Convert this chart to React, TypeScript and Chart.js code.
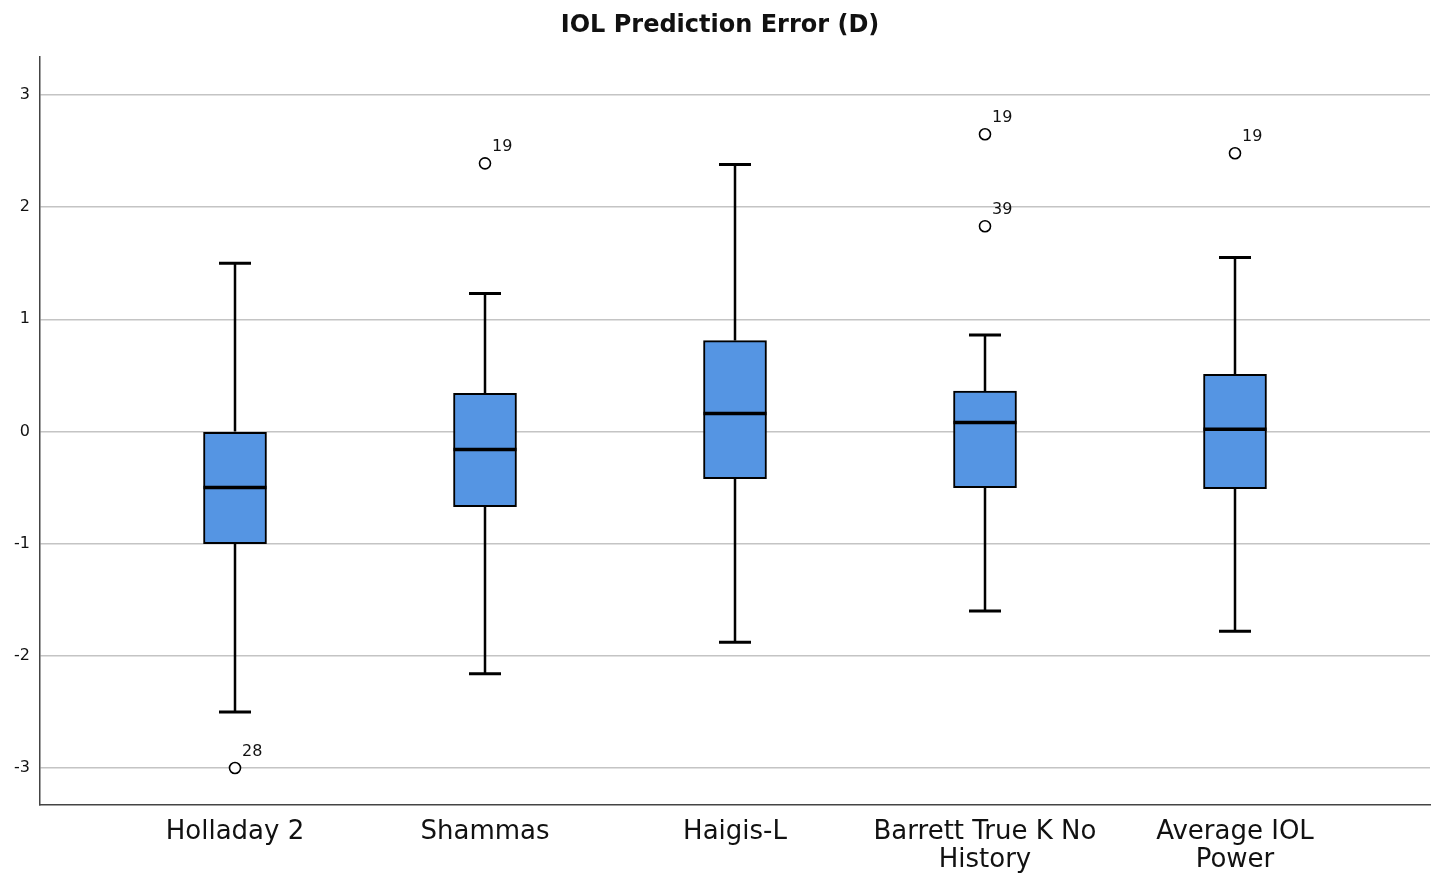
import React, { useEffect, useRef } from "react";
import { Chart, registerables } from "chart.js";

Chart.register(...registerables);

const categories: string[][] = [
  ["Holladay 2"],
  ["Shammas"],
  ["Haigis-L"],
  ["Barrett True K No", "History"],
  ["Average IOL", "Power"],
];
const whiskerLow = [-2.5, -2.16, -1.88, -1.6, -1.78];
const q1 = [-1.0, -0.67, -0.42, -0.5, -0.51];
const median = [-0.5, -0.16, 0.16, 0.08, 0.02];
const q3 = [0.0, 0.34, 0.81, 0.36, 0.51];
const whiskerHigh = [1.5, 1.23, 2.38, 0.86, 1.55];
const outlierCategory = [0, 1, 3, 3, 4];
const outlierValue = [-3.0, 2.39, 2.65, 1.83, 2.48];
const outlierLabel = ["28", "19", "19", "39", "19"];
const yTicks = [-3, -2, -1, 0, 1, 2, 3];

const FONT = "'DejaVu Sans', 'Liberation Sans', sans-serif";
const BOX_PX = 63;
const CAP_PX = 32;

const boxPlugin = {
  id: "boxWhiskers",
  afterDatasetsDraw(chart: any) {
    const { ctx } = chart;
    const x = chart.scales.x;
    const y = chart.scales.y;
    ctx.save();
    ctx.strokeStyle = "#000";
    ctx.lineCap = "butt";
    for (let i = 0; i < categories.length; i++) {
      const cx = x.getPixelForValue(i);
      ctx.lineWidth = 2.5;
      ctx.beginPath();
      ctx.moveTo(cx, y.getPixelForValue(whiskerHigh[i]));
      ctx.lineTo(cx, y.getPixelForValue(q3[i]));
      ctx.moveTo(cx, y.getPixelForValue(q1[i]));
      ctx.lineTo(cx, y.getPixelForValue(whiskerLow[i]));
      ctx.stroke();
      ctx.lineWidth = 3;
      ctx.beginPath();
      const yh = y.getPixelForValue(whiskerHigh[i]);
      const yl = y.getPixelForValue(whiskerLow[i]);
      ctx.moveTo(cx - CAP_PX / 2, yh);
      ctx.lineTo(cx + CAP_PX / 2, yh);
      ctx.moveTo(cx - CAP_PX / 2, yl);
      ctx.lineTo(cx + CAP_PX / 2, yl);
      ctx.stroke();
      ctx.lineWidth = 3.5;
      ctx.beginPath();
      const ym = y.getPixelForValue(median[i]);
      ctx.moveTo(cx - BOX_PX / 2, ym);
      ctx.lineTo(cx + BOX_PX / 2, ym);
      ctx.stroke();
    }
    ctx.fillStyle = "#111";
    ctx.font = `16px ${FONT}`;
    ctx.textAlign = "left";
    ctx.textBaseline = "alphabetic";
    for (let k = 0; k < outlierValue.length; k++) {
      const px = x.getPixelForValue(outlierCategory[k]);
      const py = y.getPixelForValue(outlierValue[k]);
      ctx.fillText(outlierLabel[k], px + 7, py - 12);
    }
    ctx.restore();
  },
};

export default function App() {
  const ref = useRef<HTMLCanvasElement | null>(null);
  useEffect(() => {
    document.body.style.margin = "0";
    const canvas = ref.current!;
    const chart = new Chart(canvas, {
      type: "bar",
      data: {
        datasets: [
          {
            type: "bar",
            data: categories.map((_, i) => ({ x: i, y: [q1[i], q3[i]] })) as any,
            backgroundColor: "#5595e3",
            borderColor: "#000",
            borderWidth: 2,
            borderSkipped: false,
            barThickness: BOX_PX,
          } as any,
          {
            type: "scatter",
            data: outlierValue.map((v, k) => ({ x: outlierCategory[k], y: v })),
            pointRadius: 5.5,
            pointBackgroundColor: "#fff",
            pointBorderColor: "#000",
            pointBorderWidth: 1.6,
            showLine: false,
          } as any,
        ],
      },
      options: {
        responsive: false,
        animation: false,
        layout: { autoPadding: false, padding: { left: 10, right: 4, top: 0, bottom: 0 } },
        plugins: {
          legend: { display: false },
          tooltip: { enabled: false },
          title: {
            display: true,
            text: "IOL Prediction Error (D)",
            color: "#111",
            font: { family: FONT, size: 24, weight: "bold" },
            padding: { top: 11, bottom: 17 },
          },
        },
        scales: {
          x: {
            type: "linear",
            min: -0.78,
            max: 4.78,
            offset: false,
            afterBuildTicks: (s: any) => {
              s.ticks = categories.map((_, i) => ({ value: i }));
            },
            afterFit: (s: any) => {
              s.height = 69;
              s.paddingLeft = 0;
              s.paddingRight = 0;
            },
            ticks: {
              callback: (v: any) => categories[v as number] ?? "",
              color: "#111",
              font: { family: FONT, size: 26, lineHeight: 1.08 },
              padding: 13,
              maxRotation: 0,
              autoSkip: false,
            },
            grid: { display: false, drawTicks: false },
            border: { display: true, color: "#444", width: 1.5 },
          },
          y: {
            type: "linear",
            min: -3.33,
            max: 3.34,
            afterBuildTicks: (s: any) => {
              s.ticks = yTicks.map((v) => ({ value: v }));
            },
            afterFit: (s: any) => {
              s.width = 30;
            },
            ticks: {
              color: "#111",
              font: { family: FONT, size: 16 },
              padding: 10,
            },
            grid: { color: "#c4c4c4", lineWidth: 1.5, drawTicks: false },
            border: { display: true, color: "#444", width: 1.5 },
          },
        },
      },
      plugins: [boxPlugin],
    } as any);
    return () => chart.destroy();
  }, []);
  return (
    <div style={{ width: 1434, height: 874 }}>
      <canvas ref={ref} width={1434} height={874} style={{ display: "block" }} />
    </div>
  );
}
